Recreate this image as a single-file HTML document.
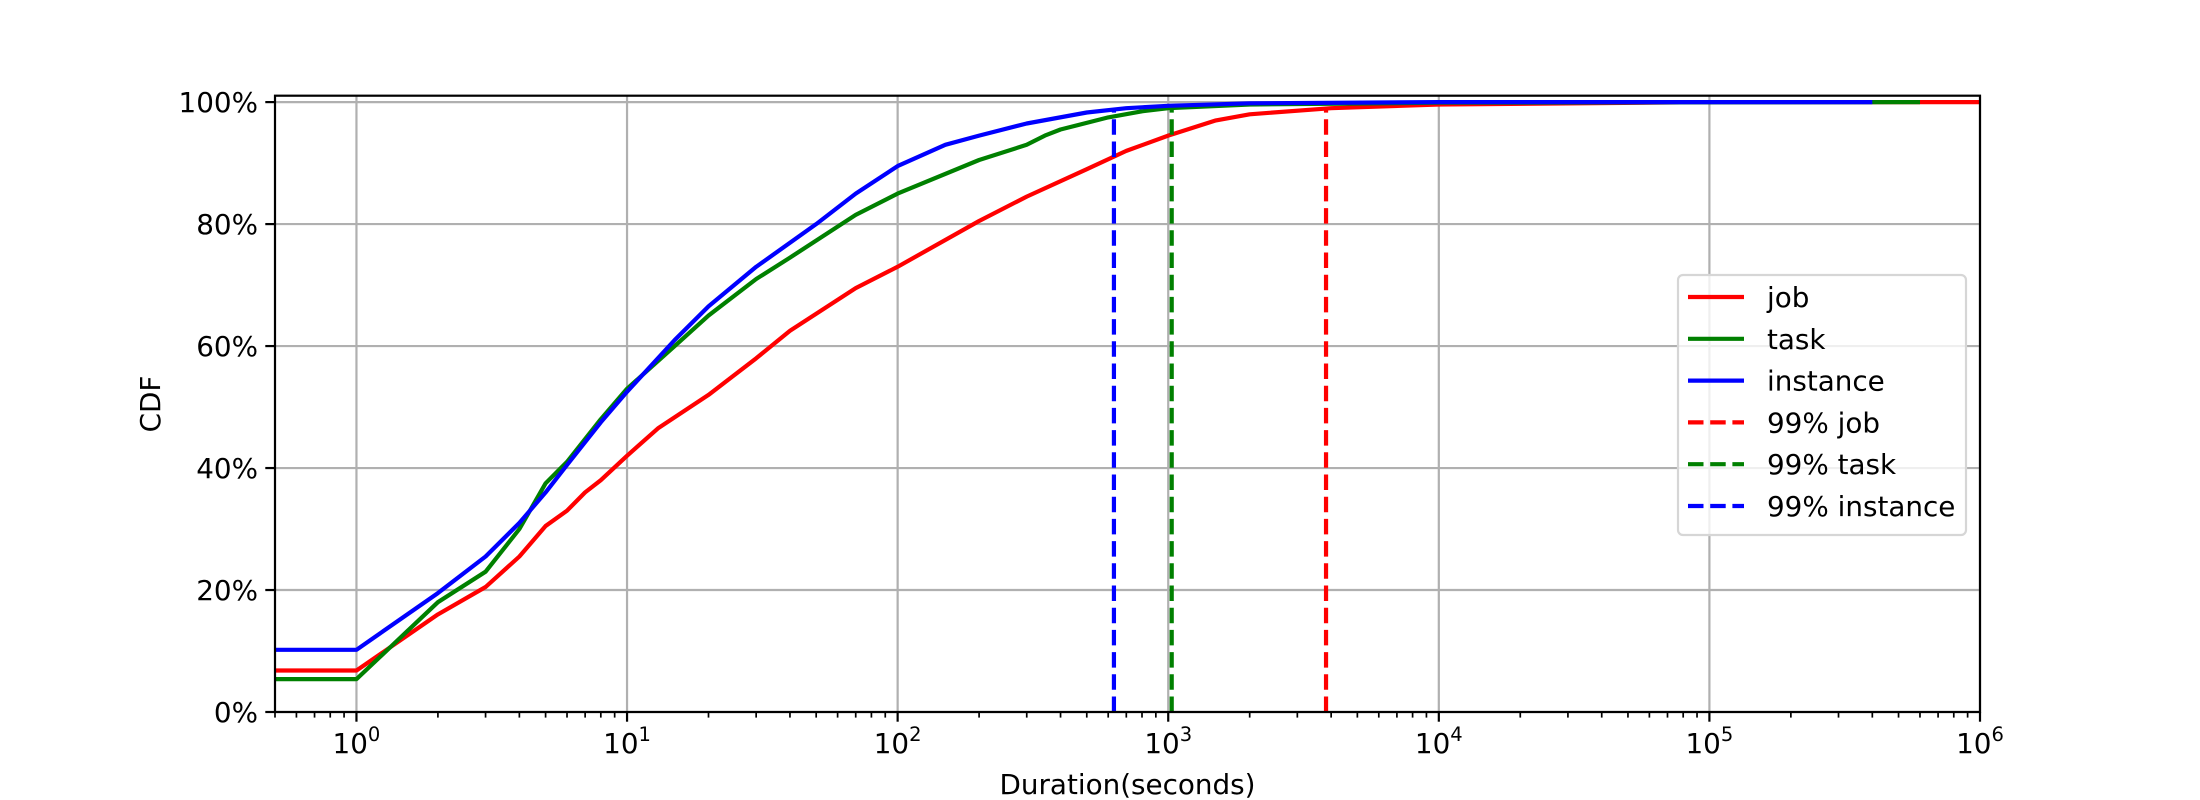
<!DOCTYPE html>
<html><head><meta charset="utf-8"><style>
html,body{margin:0;padding:0;background:#fff;}
svg{display:block;font-family:"DejaVu Sans","Liberation Sans",sans-serif;}
</style></head><body>
<svg id="chart" width="2200" height="800" viewBox="0 0 2200 800" xmlns="http://www.w3.org/2000/svg">
<g id="grid"></g>
<g id="series"></g>
<g id="axes"></g>
<g id="legend"></g>
</svg>
<script>
const xTicks = [0, 1, 2, 3, 4, 5, 6];
const yTicks = [0, 20, 40, 60, 80, 100];
const yTickLabels = ["0%", "20%", "40%", "60%", "80%", "100%"];
const jobX = [0.5, 1, 2, 3, 4, 5, 6, 7, 8, 10, 13, 20, 30, 40, 70, 100, 200, 300, 500, 700, 1000, 1500, 2000, 4000, 10000, 100000, 1000000];
const jobY = [6.8, 6.8, 16, 20.5, 25.5, 30.5, 33, 36, 38, 42, 46.5, 52, 58, 62.5, 69.5, 73, 80.5, 84.5, 89, 92, 94.5, 97, 98, 99, 99.6, 100, 100];
const taskX = [0.5, 1, 2, 3, 4, 5, 6, 8, 10, 15, 20, 30, 40, 70, 100, 200, 300, 350, 400, 600, 800, 1000, 2000, 10000, 600000];
const taskY = [5.4, 5.4, 18, 23, 30, 37.5, 41, 48, 53, 60, 65, 71, 74.5, 81.5, 85, 90.5, 93, 94.5, 95.5, 97.5, 98.5, 99, 99.6, 99.9, 100];
const instX = [0.5, 1, 2, 3, 4, 5, 6, 8, 10, 15, 20, 30, 50, 70, 100, 150, 200, 300, 500, 700, 1000, 2000, 10000, 400000];
const instY = [10.2, 10.2, 19.5, 25.5, 31, 36, 40.5, 47.5, 52.5, 61, 66.5, 73, 80, 85, 89.5, 93, 94.5, 96.5, 98.3, 99, 99.4, 99.8, 100, 100];
const p99 = [3830, 1030, 630];
const p99Colors = ["#ff0000", "#008000", "#0000ff"];
const legendLabels = ["job", "task", "instance", "99% job", "99% task", "99% instance"];

const NS = "http://www.w3.org/2000/svg";
const L = 275, R = 1980, T = 95.7, B = 712;
const xmin = Math.log10(0.5), xmax = 6;
const ymin = 0, ymax = 101.05;
function sx(v){ return L + (Math.log10(v) - xmin) / (xmax - xmin) * (R - L); }
function sy(v){ return B - (v - ymin) / (ymax - ymin) * (B - T); }
function mk(tag, attrs, parent){ const e = document.createElementNS(NS, tag); for (const k in attrs) e.setAttribute(k, attrs[k]); parent.appendChild(e); return e; }
const grid = document.getElementById('grid'), series = document.getElementById('series'), axes = document.getElementById('axes'), legend = document.getElementById('legend');

xTicks.forEach(p => {
  const x = sx(Math.pow(10, p));
  const g = mk('line', {x1:x, x2:x, y1:T, y2:B, stroke:'#b0b0b0', 'stroke-width':2.2}, grid);
  
  
});
yTicks.forEach(v => {
  const y = sy(v);
  const g = mk('line', {x1:L, x2:R, y1:y, y2:y, stroke:'#b0b0b0', 'stroke-width':2.2}, grid);
  
  
});

function drawLine(xs, ys, color, name){
  const d = xs.map((x, i) => (i ? 'L' : 'M') + sx(x).toFixed(1) + ' ' + sy(ys[i]).toFixed(1)).join(' ');
  const p = mk('path', {d:d, fill:'none', stroke:color, 'stroke-width':4.2, 'stroke-linejoin':'round'}, series);
  
  
}
drawLine(jobX, jobY, '#ff0000', 'job-line');
drawLine(taskX, taskY, '#008000', 'task-line');
drawLine(instX, instY, '#0000ff', 'instance-line');
const p99Names = ['p99-job-line', 'p99-task-line', 'p99-instance-line'];
p99.forEach((v, i) => {
  const x = sx(v);
  const l = mk('line', {x1:x, x2:x, y1:sy(0), y2:sy(99), stroke:p99Colors[i], 'stroke-width':4.2, 'stroke-dasharray':'15.5 6.7'}, series);
  
  
});

const frame = mk('rect', {x:L, y:T, width:R-L, height:B-T, fill:'none', stroke:'#000', 'stroke-width':2.2}, axes);



for (let p = -1; p < 6; p++) {
  for (let m = 2; m <= 9; m++) {
    const v = m * Math.pow(10, p);
    if (v < 0.5 || v > 1e6) continue;
    const x = sx(v);
    const t = mk('line', {x1:x, x2:x, y1:B, y2:B+5.6, stroke:'#000', 'stroke-width':1.7}, axes);
    
    
  }
}
xTicks.forEach(p => {
  const x = sx(Math.pow(10, p));
  const t = mk('line', {x1:x, x2:x, y1:B, y2:B+9.7, stroke:'#000', 'stroke-width':2.2}, axes);
  
  
  const tx = mk('text', {x:x, y:753, 'font-size':27.8, 'text-anchor':'middle', fill:'#000'}, axes);
  
  
  tx.innerHTML = '10<tspan dy="-12" font-size="19.5">' + p + '</tspan>';
});
yTicks.forEach((v, i) => {
  const y = sy(v);
  const t = mk('line', {x1:L-9.7, x2:L, y1:y, y2:y, stroke:'#000', 'stroke-width':2.2}, axes);
  
  
  const tx = mk('text', {x:L-17, y:y+10, 'font-size':27.8, 'text-anchor':'end', fill:'#000'}, axes);
  
  
  tx.textContent = yTickLabels[i];
});
const xt = mk('text', {x:(L+R)/2, y:794, 'font-size':27.8, 'text-anchor':'middle', fill:'#000'}, axes);


xt.textContent = 'Duration(seconds)';
const yt = mk('text', {x:0, y:0, 'font-size':27.8, 'text-anchor':'middle', fill:'#000', transform:'translate(160,404) rotate(-90)'}, axes);


yt.textContent = 'CDF';

const lb = mk('rect', {x:1678, y:275, width:288, height:260, rx:5, fill:'#fff', 'fill-opacity':0.8, stroke:'#d6d6d6', 'stroke-width':2.2}, legend);


const legColors = ['#ff0000', '#008000', '#0000ff', '#ff0000', '#008000', '#0000ff'];
legendLabels.forEach((lab, i) => {
  const y = 297 + i * 41.8;
  const ln = mk('line', {x1:1688, x2:1744, y1:y, y2:y, stroke:legColors[i], 'stroke-width':4.2}, legend);
  if (i >= 3) ln.setAttribute('stroke-dasharray', '15.5 6.7');
  
  
  const tx = mk('text', {x:1767, y:y+10, 'font-size':27.8, fill:'#000'}, legend);
  
  
  tx.textContent = lab;
});
</script>
</body></html>
